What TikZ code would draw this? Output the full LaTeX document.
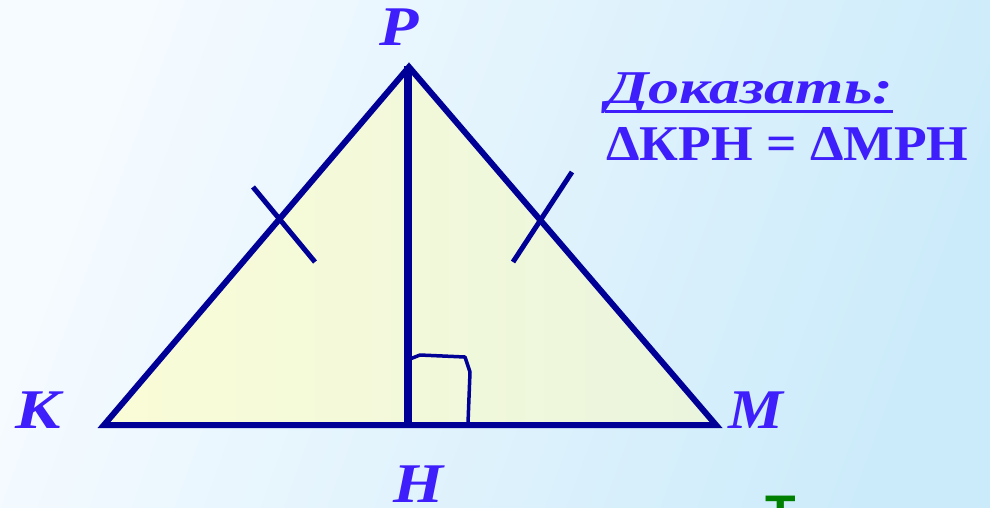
\documentclass[tikz,border=0pt]{standalone}
\usepackage{fontspec}
\usepackage{graphicx}
\setmainfont{Liberation Serif}
\newfontfamily\sansb{Liberation Sans}
\usetikzlibrary{calc}
\definecolor{edgec}{RGB}{0,0,150}
\definecolor{lblc}{RGB}{62,30,250}
\definecolor{bgl}{RGB}{246,251,255}
\definecolor{bgr}{RGB}{204,235,250}
\definecolor{fill1}{RGB}{250,252,214}
\definecolor{fill2}{RGB}{234,245,222}
\definecolor{greent}{RGB}{0,128,0}
\newcommand{\wid}[2]{\scalebox{#1}[1]{#2}}
\tikzset{
  vlabel/.style={text=lblc, font=\fontsize{56}{60}\selectfont\bfseries\itshape, inner sep=0pt, anchor=base},
  side/.style={draw=edgec, line width=6pt, line join=miter},
  tick/.style={draw=edgec, line width=5pt},
}
\begin{document}
\begin{tikzpicture}[x=1pt,y=-1pt]
\useasboundingbox (0,0) rectangle (990,507);
\begin{scope}
\clip (0,0) rectangle (990,507);
\shade[left color=bgl, right color=bgr, shading angle=70] (0,0) rectangle (990,507);
\coordinate (K) at (104,425);
\coordinate (P) at (409,67);
\coordinate (M) at (716,425);
\coordinate (H) at (408,425);
\coordinate (Htop) at (408,66);
\shade[left color=fill1, right color=fill2] (K) -- (P) -- (M) -- cycle;
\draw[side] (K) -- (P) -- (M) -- cycle;
\draw[draw=edgec, line width=8pt] (Htop) -- (H);
\coordinate (t1a) at (253,187); \coordinate (t1b) at (315,262);
\coordinate (t2a) at (572,172); \coordinate (t2b) at (513,262);
\draw[tick] (t1a) -- (t1b);
\draw[tick] (t2a) -- (t2b);
\coordinate (r1) at (410,359); \coordinate (r2) at (420,355);
\coordinate (r3) at (465,357); \coordinate (r4) at (470,372);
\coordinate (r5) at (468,423);
\draw[draw=edgec, line width=3.5pt, line join=round] (r1) -- (r2) -- (r3) -- (r4) -- (r5);
\node[vlabel] (lP) at (399,45) {\wid{1.15}{Р}};
\node[vlabel] (lK) at (38,428) {\wid{1.2}{К}};
\node[vlabel] (lM) at (756,428) {\wid{1.1}{М}};
\node[vlabel] (lH) at (419,502) {\wid{1.15}{Н}};
\node[text=lblc, font=\fontsize{47}{50}\selectfont\bfseries\itshape, inner sep=0pt, anchor=base west] (doc) at (606,103) {\wid{1.32}{Доказать:}};
\draw[draw=lblc, line width=3pt] ($(doc.base west)+(-1,8)$) -- ($(doc.base east)+(0,8)$);
\node[text=lblc, font=\fontsize{50}{54}\selectfont\bfseries, inner sep=0pt, anchor=base west] (eq) at (606,160) {\wid{1.07}{ΔКРН = ΔМРН}};
\node[text=greent, font=\fontsize{50}{54}\sansb\bfseries, inner sep=0pt, anchor=base] (gT) at (781,530) {Т};
\end{scope}
\end{tikzpicture}
\end{document}
